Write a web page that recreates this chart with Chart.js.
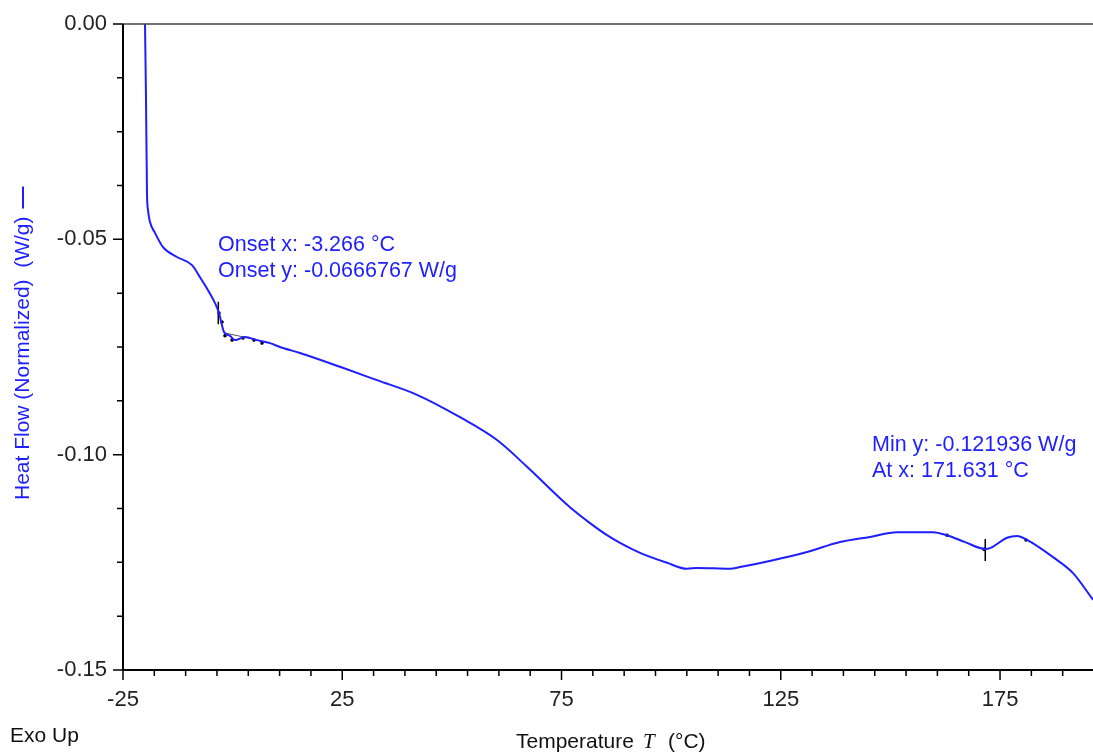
<!DOCTYPE html>
<html>
<head>
<meta charset="utf-8">
<script src="https://cdn.jsdelivr.net/npm/chart.js@4/dist/chart.umd.min.js"></script>
<style>
  body { margin: 0; background: #fff; }
  #box { width: 1093px; height: 754px; }
</style>
</head>
<body>
<div id="box"><canvas id="dsc" width="1093" height="754"></canvas></div>
<script>
// DSC curve (temperature in °C, heat flow in W/g)
var temps = [-19.98, -19.75, -19.53, -19.30, -18.84, -17.70, -15.88, -12.69, -9.26, -7.44, -5.62, -4.02, -3.11, -1.97,
    -0.60, 0.54, 2.82, 5.56, 8.52, 10.80, 15.36, 24.49, 32.92, 42.05, 51.85, 60.29, 67.13, 74.66, 77.62,
    81.50, 85.38, 88.34, 92.90, 99.06, 103.62, 105.90, 113.43, 115.71, 123.23, 130.99, 138.51, 145.35, 151.51, 159.72,
    162.91, 167.02, 171.63, 172.72, 176.60, 178.88, 181.16, 187.09, 191.65, 196.21];
var heatFlow = [0.0, -0.0176, -0.0392, -0.0432, -0.0460, -0.0485, -0.0518, -0.0541, -0.0560, -0.0588, -0.0618, -0.0648,
    -0.0671, -0.0715, -0.0724, -0.0734, -0.0727, -0.0734, -0.0741, -0.0750, -0.0764, -0.0796, -0.0827,
    -0.0861, -0.0913, -0.0966, -0.1028, -0.1101, -0.1128, -0.1159, -0.1187, -0.1205, -0.1228, -0.1251,
    -0.1265, -0.1263, -0.1265, -0.1261, -0.1245, -0.1226, -0.1203, -0.1191, -0.1180, -0.1180, -0.1187,
    -0.1203, -0.1219, -0.1217, -0.1193, -0.1189, -0.1198, -0.1238, -0.1275, -0.1337];

// analysis marks (onset + min)
var onsetTickX = [-3.266, -3.266];
var onsetTickY = [-0.0645, -0.0697];
var tangentX = [-1.97, 6.70];
var tangentY = [-0.0717, -0.0736];
var minTickX = [171.631, 171.631];
var minTickY = [-0.1196, -0.1247];
var dotX = [-3.11, -2.42, -1.74, -0.14, 2.37, 4.87, 6.70, 162.91, 171.4, 180.93];
var dotY = [-0.0671, -0.0692, -0.0724, -0.0734, -0.0729, -0.0734, -0.0741, -0.1187, -0.1220, -0.1198];

var xTickLabels = [-25, 25, 75, 125, 175];
var yTickLabels = [0, -0.05, -0.10, -0.15];

function pts(xs, ys) {
    var out = [];
    for (var i = 0; i < xs.length; i++) out.push({x: xs[i], y: ys[i]});
    return out;
}

var BLUE = 'rgb(30,30,255)';
var SANS = '"Liberation Sans", Arial, sans-serif';

// axes, minor ticks, titles and analysis labels
var decor = {
    id: 'decor',
    afterDraw: function (chart) {
        var ctx = chart.ctx, xs = chart.scales.x, ys = chart.scales.y, a = chart.chartArea;
        ctx.save();
        // frame
        ctx.strokeStyle = '#444';
        ctx.lineWidth = 1.5;
        ctx.beginPath(); ctx.moveTo(a.left, a.top); ctx.lineTo(a.right, a.top); ctx.stroke();
        ctx.strokeStyle = '#000';
        ctx.lineWidth = 2;
        ctx.beginPath(); ctx.moveTo(a.left, a.top); ctx.lineTo(a.left, a.bottom); ctx.lineTo(a.right, a.bottom); ctx.stroke();
        // ticks
        ctx.lineWidth = 1.5;
        ctx.beginPath();
        for (var k = 0; ; k++) {
            var v = -25 + k * 50 / 7;
            if (v > xs.max) break;
            var px = xs.getPixelForValue(v);
            ctx.moveTo(px, a.bottom); ctx.lineTo(px, a.bottom + (k % 7 === 0 ? 10 : 6));
        }
        for (var j = 0; j <= 12; j++) {
            var py = ys.getPixelForValue(-j * 0.0125);
            ctx.moveTo(a.left, py); ctx.lineTo(a.left - (j % 4 === 0 ? 10 : 6), py);
        }
        ctx.stroke();

        // x title with italic T
        ctx.fillStyle = '#111';
        ctx.textBaseline = 'alphabetic';
        ctx.textAlign = 'left';
        ctx.font = '21px ' + SANS;
        ctx.fillText('Temperature', 516, 748);
        ctx.fillText('(°C)', 668, 748);
        ctx.fillText('Exo Up', 10, 742);
        ctx.font = 'italic 21px "Liberation Serif", "Times New Roman", serif';
        ctx.fillText('T', 643, 748);

        // y title
        ctx.save();
        ctx.translate(23, 500);
        ctx.rotate(-Math.PI / 2);
        ctx.fillStyle = BLUE;
        ctx.textBaseline = 'middle';
        ctx.font = '21px ' + SANS;
        ctx.fillText('Heat Flow (Normalized)  (W/g)', 0, 0);
        var w = ctx.measureText('Heat Flow (Normalized)  (W/g)').width;
        ctx.strokeStyle = BLUE;
        ctx.lineWidth = 2;
        ctx.beginPath(); ctx.moveTo(w + 8, 0); ctx.lineTo(w + 30, 0); ctx.stroke();
        ctx.restore();

        // analysis labels
        ctx.fillStyle = BLUE;
        ctx.textBaseline = 'middle';
        ctx.font = '21.5px ' + SANS;
        ctx.fillText('Onset x: -3.266 °C', 218, 245);
        ctx.fillText('Onset y: -0.0666767 W/g', 218, 271);
        ctx.fillText('Min y: -0.121936 W/g', 872, 445);
        ctx.fillText('At x: 171.631 °C', 872, 471);
        ctx.restore();
    }
};

new Chart(document.getElementById('dsc'), {
    type: 'line',
    data: {
        datasets: [{
            data: pts(temps, heatFlow),
            borderColor: BLUE,
            borderWidth: 2,
            pointRadius: 0,
            cubicInterpolationMode: 'monotone'
        }, {
            data: pts(onsetTickX, onsetTickY),
            borderColor: '#000', borderWidth: 1.5, pointRadius: 0
        }, {
            data: pts(tangentX, tangentY),
            borderColor: '#555', borderWidth: 1, pointRadius: 0
        }, {
            data: pts(minTickX, minTickY),
            borderColor: '#000', borderWidth: 1.5, pointRadius: 0
        }, {
            data: pts(dotX, dotY),
            showLine: false,
            pointRadius: 1.8,
            pointHoverRadius: 1.8,
            pointBackgroundColor: '#000',
            pointBorderWidth: 0
        }]
    },
    options: {
        responsive: false,
        animation: false,
        events: [],
        layout: {autoPadding: false, padding: {top: 24, right: 0, left: 0, bottom: 0}},
        plugins: {legend: {display: false}, tooltip: {enabled: false}},
        scales: {
            x: {
                type: 'linear',
                min: -25,
                max: 196.2,
                grid: {display: false},
                border: {display: false},
                afterFit: function (s) { s.height = 84; s.paddingLeft = 0; s.paddingRight = 0; },
                afterBuildTicks: function (s) { s.ticks = xTickLabels.map(function (v) { return {value: v}; }); },
                ticks: {
                    padding: 9,
                    color: '#222',
                    font: {family: SANS, size: 22},
                    callback: function (v) { return String(v); }
                }
            },
            y: {
                type: 'linear',
                min: -0.15,
                max: 0,
                grid: {display: false},
                border: {display: false},
                afterFit: function (s) { s.width = 123; s.paddingTop = 0; s.paddingBottom = 0; },
                afterBuildTicks: function (s) { s.ticks = yTickLabels.map(function (v) { return {value: v}; }); },
                ticks: {
                    padding: 8,
                    color: '#222',
                    font: {family: SANS, size: 22},
                    callback: function (v) { return v.toFixed(2); }
                }
            }
        }
    },
    plugins: [decor]
});
</script>
</body>
</html>
